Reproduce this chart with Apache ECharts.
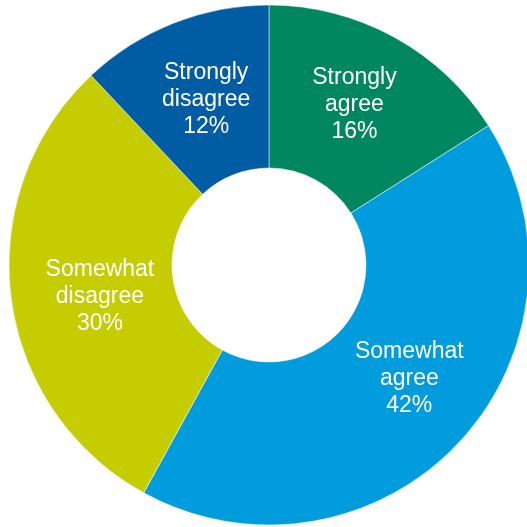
<!DOCTYPE html>
<html>
<head>
<meta charset="utf-8">
<script src="https://cdn.jsdelivr.net/npm/echarts@6/dist/echarts.min.js"></script>
<style>
  html, body { margin: 0; padding: 0; background: #ffffff; }
  #chart { width: 527px; height: 527px; }
</style>
</head>
<body>
<div id="chart"></div>
<script>
// Survey response shares, clockwise from 12 o'clock
const categories = ['Strongly\nagree', 'Somewhat\nagree', 'Somewhat\ndisagree', 'Strongly\ndisagree'];
const shares = [16, 42, 30, 12];
const sliceColors = ['#00875F', '#009CDE', '#C5CC00', '#005DA4'];
// Small label nudges [dx, dy] from the default mid-ring position
const labelNudge = [[-2, -1], [8, -11], [11, 9], [4, 3]];

const chart = echarts.init(document.getElementById('chart'), null, { renderer: 'canvas' });

const data = categories.map((name, i) => ({
  name: name,
  value: shares[i],
  itemStyle: { color: sliceColors[i] },
  label: { offset: labelNudge[i] }
}));

chart.setOption({
  animation: false,
  series: [{
    type: 'pie',
    center: [269, 265],
    radius: [97, 260],
    startAngle: 90,
    clockwise: true,
    avoidLabelOverlap: false,
    itemStyle: { borderColor: '#ffffff', borderWidth: 0.5 },
    label: {
      show: true,
      position: 'inside',
      formatter: p => p.name + '\n' + p.value + '%',
      color: '#ffffff',
      fontFamily: '"Liberation Sans", Arial, sans-serif',
      fontSize: 23,
      lineHeight: 27,
      align: 'center'
    },
    labelLine: { show: false },
    emphasis: { disabled: true },
    data: data
  }]
});
</script>
</body>
</html>
